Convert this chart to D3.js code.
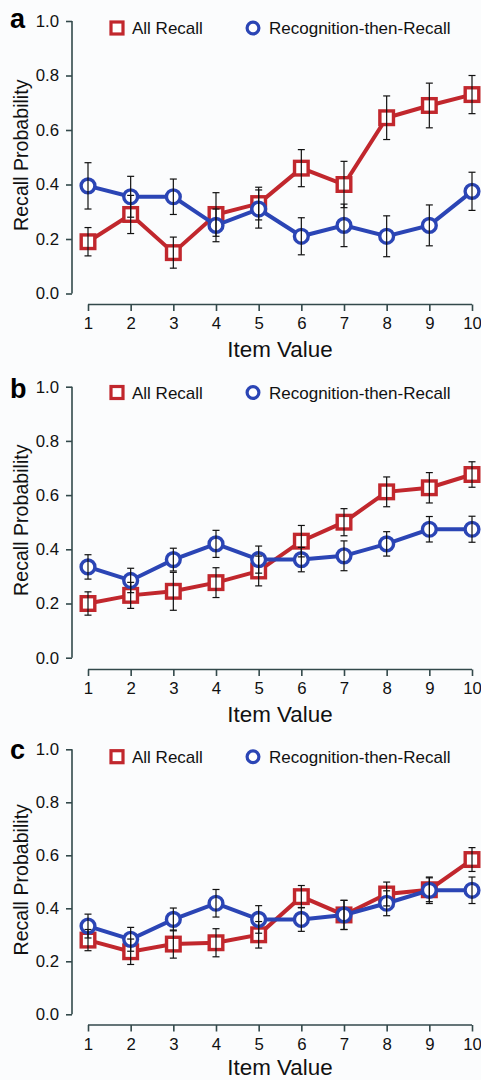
<!DOCTYPE html>
<html>
<head>
<meta charset="utf-8">
<script src="https://cdn.jsdelivr.net/npm/d3@7"></script>
<style>
  body { margin: 0; background: #fbfcfd; }
  svg { display: block; font-family: "Liberation Sans", Arial, sans-serif; }
</style>
</head>
<body>
<svg id="chart" width="481" height="1080"></svg>
<script>
const items = [1, 2, 3, 4, 5, 6, 7, 8, 9, 10],
yTicks = [0, 0.2, 0.4, 0.6, 0.8, 1.0],
seriesNames = ["All Recall", "Recognition-then-Recall"],
panelLetters = ["a", "b", "c"];

// panel a
const aAllRecall = [0.19, 0.29, 0.15, 0.29, 0.33, 0.46, 0.40, 0.645, 0.69, 0.73],
aAllRecallErr = [0.052, 0.07, 0.057, 0.08, 0.06, 0.068, 0.085, 0.08, 0.082, 0.07],
aRecog = [0.395, 0.355, 0.355, 0.25, 0.31, 0.21, 0.25, 0.21, 0.25, 0.375],
aRecogErr = [0.085, 0.075, 0.065, 0.06, 0.07, 0.068, 0.078, 0.075, 0.075, 0.07];

// panel b
const bAllRecall = [0.20, 0.23, 0.245, 0.277, 0.32, 0.43, 0.50, 0.612, 0.627, 0.676],
bAllRecallErr = [0.043, 0.048, 0.07, 0.055, 0.055, 0.058, 0.05, 0.055, 0.056, 0.047],
bRecog = [0.335, 0.285, 0.362, 0.42, 0.362, 0.362, 0.376, 0.42, 0.474, 0.474],
bRecogErr = [0.045, 0.045, 0.042, 0.05, 0.05, 0.045, 0.055, 0.045, 0.047, 0.048];

// panel c
const cAllRecall = [0.28, 0.236, 0.265, 0.27, 0.30, 0.444, 0.375, 0.454, 0.47, 0.584],
cAllRecallErr = [0.04, 0.048, 0.053, 0.053, 0.05, 0.042, 0.055, 0.045, 0.045, 0.045],
cRecog = [0.333, 0.283, 0.358, 0.419, 0.358, 0.358, 0.375, 0.419, 0.468, 0.468],
cRecogErr = [0.045, 0.045, 0.043, 0.052, 0.052, 0.045, 0.055, 0.047, 0.05, 0.05];

const red = "#c1272d",
blue = "#2b45b5",
axisColor = "#33494b";

// vertical placement of each panel (top = 1.0, bottom = 0.0, x axis line)
const panels = [
  { top: 21, bottom: 293.5, xAxis: 304.5, letterDy: 7, legendDy: 7, titleDy: 52.5, red: [aAllRecall, aAllRecallErr], blue: [aRecog, aRecogErr] },
  { top: 386.7, bottom: 657.7, xAxis: 669.5, letterDy: 11.5, legendDy: 5.8, titleDy: 52.5, red: [bAllRecall, bAllRecallErr], blue: [bRecog, bRecogErr] },
  { top: 749.3, bottom: 1014.3, xAxis: 1025, letterDy: 10, legendDy: 7.4, titleDy: 49.5, red: [cAllRecall, cAllRecallErr], blue: [cRecog, cRecogErr] }
];

const svg = d3.select("#chart");

let x = d3.scaleLinear().domain([1, 10]).range([88, 472]);

function drawPanel(p, i) {
  let g = svg.append("g");
  let y = d3.scaleLinear().domain([0, 1]).range([p.bottom, p.top]);

  // y axis
  let yAxis = g.append("g")
  .attr("transform", "translate(72,0)")
  .call(d3.axisLeft(y).tickValues(yTicks).tickFormat(d3.format(".1f")).tickSize(6).tickPadding(7));

  // x axis, offset below the plot
  let xAxis = g.append("g")
  .attr("transform", "translate(0," + p.xAxis + ")")
  .call(d3.axisBottom(x).tickValues(items).tickSize(6.5).tickPadding(6.5));

  [yAxis, xAxis].forEach(function(a){
    a.select(".domain").attr("stroke", axisColor).attr("stroke-width", 1.6);
    a.selectAll(".tick line").attr("stroke", axisColor).attr("stroke-width", 1.6);
    a.selectAll(".tick text").attr("fill", "#111").attr("font-size", 16.8)
    .attr("font-family", "Liberation Sans, Arial, sans-serif");
  })
  xAxis.selectAll(".domain").attr("d", "M" + x(1) + ",0H" + x(10));
  yAxis.selectAll(".domain").attr("d", "M0," + y(0) + "V" + y(1));

  // axis titles
  g.append("text")
  .attr("x", 280).attr("y", p.xAxis + p.titleDy)
  .attr("text-anchor", "middle")
  .attr("font-size", 22.4).attr("fill", "#111")
  .text("Item Value");

  g.append("text")
  .attr("transform", "translate(28," + ((y(0) + y(1)) / 2 - 2) + ") rotate(-90)")
  .attr("text-anchor", "middle")
  .attr("font-size", 19.6).attr("fill", "#111")
  .text("Recall Probability");

  // panel letter
  g.append("text")
  .attr("x", 10).attr("y", y(1) + p.letterDy)
  .attr("font-size", 27).attr("font-weight", "bold").attr("fill", "#000")
  .text(panelLetters[i]);

  // legend
  let ly = y(1) + p.legendDy;
  g.append("rect")
  .attr("x", 117 - 6).attr("y", ly - 6).attr("width", 12).attr("height", 12)
  .attr("fill", "#fff").attr("stroke", red).attr("stroke-width", 3.2);
  g.append("text").attr("x", 132).attr("y", ly + 6).attr("font-size", 17).attr("fill", "#111")
  .text(seriesNames[0]);
  g.append("circle")
  .attr("cx", 253).attr("cy", ly).attr("r", 5.9)
  .attr("fill", "#fff").attr("stroke", blue).attr("stroke-width", 3.2);
  g.append("text").attr("x", 269).attr("y", ly + 6).attr("font-size", 17).attr("fill", "#111")
  .text(seriesNames[1]);

  let line = d3.line()
  .x((d, j) => x(items[j]))
  .y(d => y(d));

  // red series
  g.append("path").datum(p.red[0])
  .attr("d", line).attr("fill", "none").attr("stroke", red).attr("stroke-width", 4);
  g.selectAll(".sq").data(p.red[0]).join("rect")
  .attr("class", "sq")
  .attr("x", (d, j) => x(items[j]) - 6.8)
  .attr("y", d => y(d) - 6.8)
  .attr("width", 13.6).attr("height", 13.6)
  .attr("fill", "#fff").attr("stroke", red).attr("stroke-width", 3.4);

  // blue series
  g.append("path").datum(p.blue[0])
  .attr("d", line).attr("fill", "none").attr("stroke", blue).attr("stroke-width", 4);
  g.selectAll(".ci").data(p.blue[0]).join("circle")
  .attr("class", "ci")
  .attr("cx", (d, j) => x(items[j]))
  .attr("cy", d => y(d))
  .attr("r", 6.9)
  .attr("fill", "#fff").attr("stroke", blue).attr("stroke-width", 3.4);

  // error bars on top
  [p.red, p.blue].forEach(function(s){
    let eb = g.append("g").attr("stroke", "#111").attr("stroke-width", 1.2);
    s[0].forEach(function(m, j){
      let cx = x(items[j]),
      hi = y(m + s[1][j]),
      lo = y(m - s[1][j]);
      eb.append("line").attr("x1", cx).attr("x2", cx).attr("y1", hi).attr("y2", lo);
      eb.append("line").attr("x1", cx - 3.5).attr("x2", cx + 3.5).attr("y1", hi).attr("y2", hi);
      eb.append("line").attr("x1", cx - 3.5).attr("x2", cx + 3.5).attr("y1", lo).attr("y2", lo);
    })
  })
}

panels.forEach(drawPanel);
</script>
</body>
</html>
